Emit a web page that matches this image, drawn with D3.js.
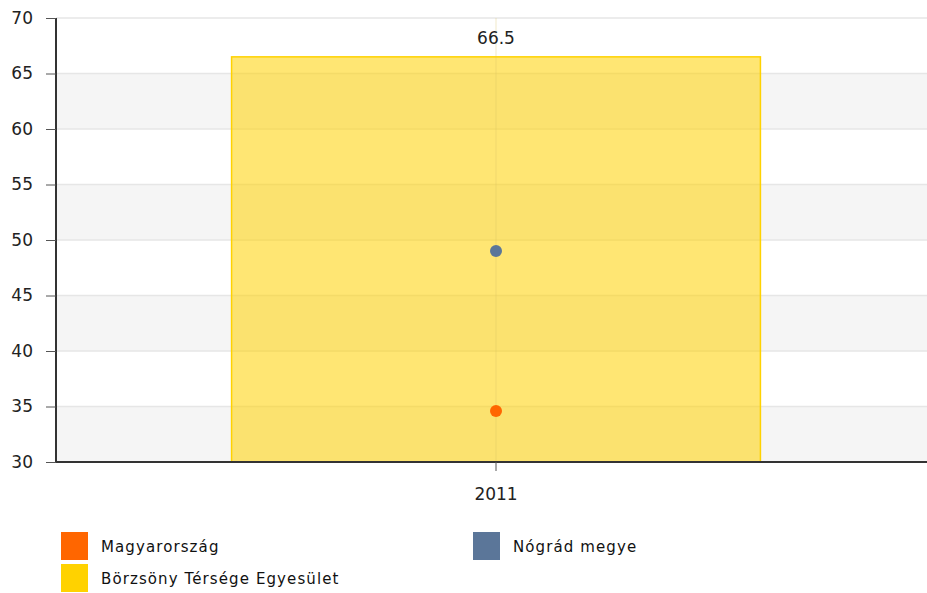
<!DOCTYPE html>
<html>
<head>
<meta charset="utf-8">
<script src="https://cdn.jsdelivr.net/npm/d3@7"></script>
<style>
  body { margin: 0; background: #fff; }
  svg { display: block; font-family: "DejaVu Sans", Verdana, sans-serif; }
</style>
</head>
<body>
<div id="chart-area"></div>
<script>
// DATA
const categories = ["2011"]
const barSeries = { name: "Börzsöny Térsége Egyesület", values: [66.5] }
const pointSeries = [
  { name: "Magyarország", values: [34.6] },
  { name: "Nógrád megye", values: [49.0] }
]
const yTicks = [30, 35, 40, 45, 50, 55, 60, 65, 70]

const colors = {
  "Magyarország": "#ff6600",
  "Nógrád megye": "#5b7699",
  "Börzsöny Térsége Egyesület": "#ffd200"
}

// DIMENSIONS
const W = 927, H = 593
const margin = { left: 56, right: -9, top: 18, bottom: 131 }
const width = W - margin.left - margin.right
const height = H - margin.top - margin.bottom

const svg = d3.select("#chart-area").append("svg")
  .attr("width", W).attr("height", H)

const chart = svg.append("g")
  .attr("transform", "translate(" + margin.left + "," + margin.top + ")")

const x = d3.scaleBand().domain(categories).range([0, width]).paddingInner(0).paddingOuter(0.332)
const y = d3.scaleLinear().domain([30, 70]).range([height, 0])

// alternating bands
const bands = d3.pairs(yTicks).filter((p, i) => i % 2 === 0)
chart.selectAll("rect.band").data(bands).enter().append("rect")
  .attr("class", "band")
  .attr("x", 0).attr("width", width)
  .attr("y", d => y(d[1])).attr("height", d => y(d[0]) - y(d[1]))
  .attr("fill", "#f5f5f5")

// horizontal grid
chart.selectAll("line.hgrid").data(yTicks).enter().append("line")
  .attr("class", "hgrid")
  .attr("x1", 0).attr("x2", width)
  .attr("y1", d => y(d)).attr("y2", d => y(d))
  .attr("stroke", "#e6e6e6").attr("stroke-width", 1.5)

// bar
chart.selectAll("rect.bar").data(categories).enter().append("rect")
  .attr("class", "bar")
  .attr("x", d => x(d))
  .attr("width", x.bandwidth())
  .attr("y", (d, i) => y(barSeries.values[i]))
  .attr("height", (d, i) => height - y(barSeries.values[i]))
  .attr("fill", colors[barSeries.name]).attr("fill-opacity", 0.55)
  .attr("stroke", colors[barSeries.name]).attr("stroke-width", 1.5)

// vertical grid at category
chart.selectAll("line.vgrid").data(categories).enter().append("line")
  .attr("class", "vgrid")
  .attr("x1", d => x(d) + x.bandwidth() / 2).attr("x2", d => x(d) + x.bandwidth() / 2)
  .attr("y1", 0).attr("y2", height)
  .attr("stroke", "#d8c060").attr("stroke-opacity", 0.35).attr("stroke-width", 1)

// value label
chart.selectAll("text.value").data(categories).enter().append("text")
  .attr("class", "value")
  .attr("x", d => x(d) + x.bandwidth() / 2)
  .attr("y", (d, i) => y(barSeries.values[i]) - 13)
  .attr("text-anchor", "middle")
  .attr("font-size", "17px").attr("fill", "#222")
  .text((d, i) => barSeries.values[i])

// points
pointSeries.forEach(s => {
  chart.selectAll(null).data(categories).enter().append("circle")
    .attr("cx", d => x(d) + x.bandwidth() / 2)
    .attr("cy", (d, i) => y(s.values[i]))
    .attr("r", 6)
    .attr("fill", colors[s.name])
})

// AXES
const yAxis = chart.append("g").call(d3.axisLeft(y).tickValues(yTicks).tickSize(10).tickPadding(13))
yAxis.select(".domain").attr("stroke", "#333").attr("stroke-width", 2).attr("d", "M0,0V" + height)
yAxis.selectAll(".tick line").attr("stroke", "#555")
yAxis.selectAll("text").attr("font-size", "17px").attr("fill", "#222").attr("font-family", "DejaVu Sans")

const xAxis = chart.append("g").attr("transform", "translate(0," + height + ")")
  .call(d3.axisBottom(x).tickSize(9).tickPadding(17))
xAxis.select(".domain").attr("stroke", "#333").attr("stroke-width", 2).attr("d", "M0,0H" + width)
xAxis.selectAll(".tick line").attr("stroke", "#555")
xAxis.selectAll("text").attr("font-size", "17px").attr("fill", "#222").attr("font-family", "DejaVu Sans")

// LEGEND
const legendItems = [
  { name: "Magyarország", x: 61, y: 532 },
  { name: "Nógrád megye", x: 473, y: 532 },
  { name: "Börzsöny Térsége Egyesület", x: 61, y: 564 }
]
const legend = svg.selectAll("g.legend").data(legendItems).enter().append("g")
  .attr("class", "legend")
  .attr("transform", d => "translate(" + d.x + "," + d.y + ")")
legend.append("rect").attr("width", 27).attr("height", 28).attr("fill", d => colors[d.name])
legend.append("text").attr("x", 40).attr("y", 20)
  .attr("font-size", "15px").attr("letter-spacing", "1.1px").attr("fill", "#111")
  .text(d => d.name)
</script>
</body>
</html>
